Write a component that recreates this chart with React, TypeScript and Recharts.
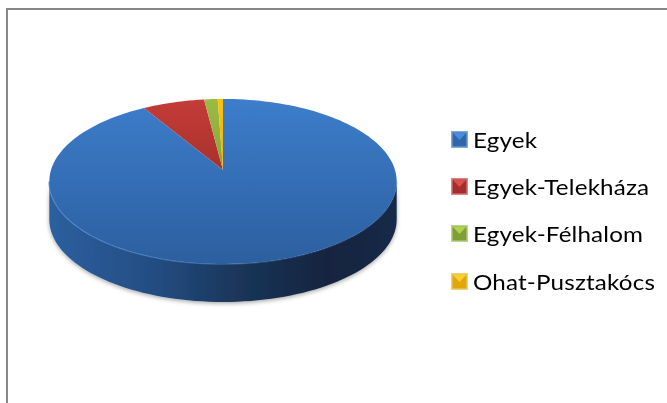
import React from "react";
import { PieChart, Pie, Cell, Legend } from "recharts";

const categories = ["Egyek", "Egyek-Telekháza", "Egyek-Félhalom", "Ohat-Pusztakócs"];
const shares = [91.4, 6.6, 1.44, 0.56];
const topFills = ["url(#topBlue)", "url(#topRed)", "url(#topGreen)", "url(#topYellow)"];
const iconColors = [
  { edge: "#86aad8", light: "#4a8bdc", dark: "#2f67ab" },
  { edge: "#d98a88", light: "#dd4f4a", dark: "#a32e2d" },
  { edge: "#bcd48a", light: "#b2d04f", dark: "#7f9f35" },
  { edge: "#ecd27c", light: "#ffd12e", dark: "#e0a60a" },
];

const rows = categories.map((name, i) => ({ name, value: shares[i] }));

const TILT = 82.5 / 172;
const PERSP = 0.139;
const APEX_OFFSET = 11.5;
const DEPTH = 38;

function rim(cx: number, cy: number, r: number, angle: number) {
  const phi = ((90 - angle) * Math.PI) / 180;
  const c = Math.cos(phi);
  const s = Math.sin(phi);
  const w = 1 + PERSP * c;
  return {
    x: cx + (r * s) / w,
    y: cy + APEX_OFFSET - (r * TILT * c + APEX_OFFSET) / w,
  };
}

function sweep(cx: number, cy: number, r: number, a0: number, a1: number) {
  const n = Math.max(2, Math.ceil(Math.abs(a1 - a0) / 2));
  const pts = [];
  for (let i = 0; i <= n; i++) pts.push(rim(cx, cy, r, a0 + ((a1 - a0) * i) / n));
  return pts;
}

function TopSlice(p: any) {
  const pts = sweep(p.cx, p.cy, p.outerRadius, p.startAngle, p.endAngle);
  const d =
    `M${p.cx},${p.cy} ` + pts.map((q) => `L${q.x.toFixed(2)},${q.y.toFixed(2)}`).join(" ") + " Z";
  return <path d={d} fill={p.fill} stroke="none" />;
}

// Recharts angles run clockwise from 90 to -270; the visible wall lies between these
const FRONT_START = 90 - 98;
const FRONT_END = 90 - 262;

function WallSlice(p: any) {
  const a0 = Math.min(p.startAngle, FRONT_START);
  const a1 = Math.max(p.endAngle, FRONT_END);
  if (a0 <= a1) return <g />;
  const pts = sweep(p.cx, p.cy, p.outerRadius, a0, a1);
  const upper = pts.map((q) => `${q.x.toFixed(2)},${q.y.toFixed(2)}`);
  const lower = [...pts].reverse().map((q) => `${q.x.toFixed(2)},${(q.y + DEPTH).toFixed(2)}`);
  const rimLine = "M" + upper.join(" L");
  return (
    <g>
      <path d={"M" + upper.concat(lower).join(" L") + " Z"} fill={p.fill} filter="url(#wallShadow)" />
      <path d={rimLine} fill="none" stroke="url(#rimLight)" strokeWidth={1.8} />
    </g>
  );
}

function LegendList({ payload }: any) {
  const seen = new Set();
  const items = (payload || [])
    .filter((e: any) => {
      if (seen.has(e.value)) return false;
      seen.add(e.value);
      return true;
    })
    .sort((a: any, b: any) => categories.indexOf(a.value) - categories.indexOf(b.value));
  return (
    <div style={{ position: "relative", width: 216, height: 190 }}>
      {items.map((e: any, i: number) => {
        const c = iconColors[categories.indexOf(e.value)];
        return (
          <div
            key={e.value}
            style={{ position: "absolute", left: 0, top: i * 47.4, height: 24, display: "flex", alignItems: "center" }}
          >
            <svg width={17} height={17} style={{ display: "block", filter: "blur(0.4px)" }}>
              <rect x={0} y={0} width={17} height={17} fill={c.edge} />
              <rect x={1.5} y={1.5} width={14} height={14} fill={c.dark} />
              <polygon points="1.5,1.5 15.5,1.5 8.5,9" fill={c.light} />
            </svg>
            <span
              style={{
                marginLeft: 5,
                fontFamily: "Lato, sans-serif",
                fontSize: 22,
                letterSpacing: 0.15,
                color: "#000",
                whiteSpace: "nowrap",
                display: "inline-block",
                transformOrigin: "left center",
                transform: "scaleX(1.1)",
                filter: "blur(0.3px)",
              }}
            >
              {e.value}
            </span>
          </div>
        );
      })}
    </div>
  );
}

export default function App() {
  return (
    <div style={{ position: "absolute", left: 0, top: 0, width: 667, height: 403, overflow: "hidden", background: "#fff" }}>
      <style>{`.soft { filter: blur(0.5px); }`}</style>
      <div
        style={{
          position: "absolute",
          left: 6,
          top: 8,
          width: 661,
          height: 395,
          boxSizing: "border-box",
          borderTop: "2px solid #878787",
          borderLeft: "2px solid #878787",
        }}
      />
      <PieChart width={667} height={403} margin={{ top: 0, right: 0, bottom: 0, left: 0 }} style={{ position: "absolute", left: 0, top: 0 }}>
        <defs>
          <linearGradient id="topBlue" gradientUnits="userSpaceOnUse" x1="0" y1="99" x2="0" y2="264">
            <stop offset="0" stopColor="#3d7dcb" />
            <stop offset="1" stopColor="#2c5f9f" />
          </linearGradient>
          <linearGradient id="topRed" gradientUnits="userSpaceOnUse" x1="0" y1="99" x2="0" y2="172">
            <stop offset="0" stopColor="#c43c37" />
            <stop offset="1" stopColor="#a9302c" />
          </linearGradient>
          <linearGradient id="topGreen" gradientUnits="userSpaceOnUse" x1="0" y1="99" x2="0" y2="172">
            <stop offset="0" stopColor="#9bbb45" />
            <stop offset="1" stopColor="#86a535" />
          </linearGradient>
          <linearGradient id="topYellow" gradientUnits="userSpaceOnUse" x1="0" y1="99" x2="0" y2="172">
            <stop offset="0" stopColor="#ffc20e" />
            <stop offset="1" stopColor="#e8ae0c" />
          </linearGradient>
          <linearGradient id="wallBlue" gradientUnits="userSpaceOnUse" x1="49" y1="0" x2="397" y2="0">
            <stop offset="0" stopColor="#2d5f9f" />
            <stop offset="0.3" stopColor="#234d83" />
            <stop offset="0.55" stopColor="#1a3558" />
            <stop offset="0.8" stopColor="#12243f" />
            <stop offset="1" stopColor="#152a47" />
          </linearGradient>
          <linearGradient id="rimLight" gradientUnits="userSpaceOnUse" x1="49" y1="0" x2="397" y2="0">
            <stop offset="0" stopColor="#5b97e0" stopOpacity="0.9" />
            <stop offset="0.5" stopColor="#4f88cf" stopOpacity="0.5" />
            <stop offset="1" stopColor="#2f64a6" stopOpacity="0.2" />
          </linearGradient>
          <filter id="wallShadow" x="-5%" y="-5%" width="110%" height="115%">
            <feDropShadow dx="0" dy="1.5" stdDeviation="2" floodColor="#000" floodOpacity="0.35" />
          </filter>
        </defs>
        <Pie
          className="soft"
          data={rows}
          dataKey="value"
          nameKey="name"
          cx={223}
          cy={170}
          outerRadius={172}
          startAngle={90}
          endAngle={-270}
          stroke="none"
          legendType="none"
          isAnimationActive={false}
          shape={WallSlice}
        >
          {rows.map((r) => (
            <Cell key={r.name} fill="url(#wallBlue)" />
          ))}
        </Pie>
        <Pie
          className="soft"
          data={rows}
          dataKey="value"
          nameKey="name"
          cx={223}
          cy={170}
          outerRadius={172}
          startAngle={90}
          endAngle={-270}
          stroke="none"
          isAnimationActive={false}
          shape={TopSlice}
        >
          {rows.map((r, i) => (
            <Cell key={r.name} fill={topFills[i]} />
          ))}
        </Pie>
        <Legend
          content={<LegendList />}
          layout="vertical"
          wrapperStyle={{ position: "absolute", left: 451, top: 127, width: 216, height: 190, margin: 0, bottom: "auto" }}
        />
      </PieChart>
    </div>
  );
}
